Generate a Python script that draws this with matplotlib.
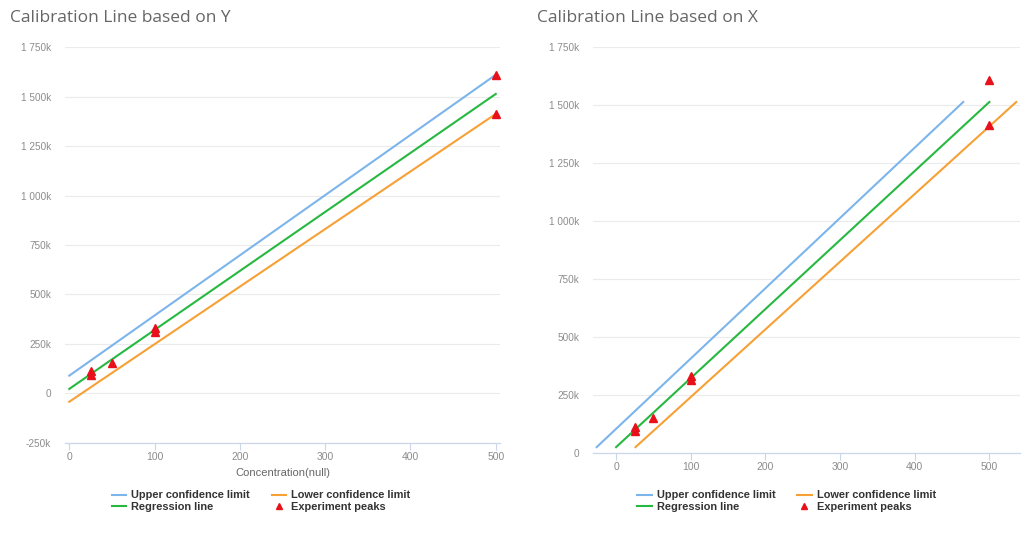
import numpy as np
import matplotlib
matplotlib.use("Agg")
import matplotlib.pyplot as plt
from matplotlib.ticker import FuncFormatter, MultipleLocator
from matplotlib.lines import Line2D

# measured peaks (concentration, signal)
peak_conc = [25, 25, 50, 100, 100, 500, 500]
peak_signal = [113000, 93000, 151000, 332000, 312000, 1611000, 1414000]

# calibration based on Y: lines evaluated at the concentration ends
y_line_conc = [0, 500]
y_upper = [89000, 1611000]
y_regression = [22000, 1514000]
y_lower = [-43000, 1413000]

# calibration based on X: lines evaluated at the signal ends
x_line_signal = [24000, 1514000]
x_upper_conc = [-26, 465]
x_regression_conc = [0, 500]
x_lower_conc = [26, 536]

BLUE = "#7cb5ec"
GREEN = "#27b840"
ORANGE = "#f7a035"
RED = "#e8101a"
GRID = "#ebebeb"
AXIS = "#ccd6eb"
LABEL = "#666666"
TICK = "#8c8c8c"


def k_format(v, pos=None):
    if v == 0:
        return "0"
    s = f"{abs(v) / 1000:,.0f}".replace(",", " ")
    return ("-" if v < 0 else "") + s + "k"


def style_axis(ax, ylim, xlim):
    ax.set_xlim(*xlim)
    ax.set_ylim(*ylim)
    ax.yaxis.set_major_locator(MultipleLocator(250000))
    ax.xaxis.set_major_locator(MultipleLocator(100))
    ax.yaxis.set_major_formatter(FuncFormatter(k_format))
    ax.grid(axis="y", color=GRID, linewidth=0.8)
    ax.set_axisbelow(True)
    for side in ["top", "right", "left"]:
        ax.spines[side].set_visible(False)
    ax.spines["bottom"].set_color(AXIS)
    ax.spines["bottom"].set_linewidth(0.9)
    ax.tick_params(axis="y", length=0, pad=10, labelsize=7.2, labelcolor=TICK)
    ax.tick_params(axis="x", length=5, width=0.8, color=AXIS, pad=1.5,
                   labelsize=7.5, labelcolor=TICK)
    for lab in ax.get_xticklabels() + ax.get_yticklabels():
        lab.set_fontfamily("Liberation Sans")


def add_legend(fig, x):
    handles = [
        Line2D([], [], color=BLUE, lw=1.5),
        Line2D([], [], color=GREEN, lw=1.5),
        Line2D([], [], color=ORANGE, lw=1.5),
        Line2D([], [], color=RED, marker="^", ls="none", ms=5),
    ]
    labels = ["Upper confidence limit", "Regression line",
              "Lower confidence limit", "Experiment peaks"]
    fig.legend(handles, labels, ncol=2, loc="upper center",
               bbox_to_anchor=(x, 0.11), frameon=False, handlelength=1.3,
               handletextpad=0.45, columnspacing=2.0, labelspacing=0.1,
               prop={"family": "Liberation Sans", "weight": "bold", "size": 7.9},
               labelcolor="#333333")


fig = plt.figure(figsize=(10.35, 5.4), dpi=100)

# left: regression of signal on concentration
ax1 = fig.add_axes([0.0628, 0.1802, 0.4203, 0.7322])
ax1.plot(y_line_conc, y_upper, color=BLUE, lw=1.5)
ax1.plot(y_line_conc, y_regression, color=GREEN, lw=1.5)
ax1.plot(y_line_conc, y_lower, color=ORANGE, lw=1.5)
ax1.plot(peak_conc, peak_signal, "^", color=RED, ms=5.5, zorder=5)
style_axis(ax1, (-250000, 1750000), (-5, 505))
ax1.set_xlabel("Concentration(null)", color=LABEL, fontsize=8,
               family="Liberation Sans", labelpad=4.5)
fig.text(0.0097, 0.967, "Calibration Line based on Y", fontsize=12.5,
         color=LABEL, family="Open Sans", va="center")
add_legend(fig, 0.252)

# right: concentration estimated from signal
ax2 = fig.add_axes([0.5729, 0.1617, 0.4126, 0.7507])
ax2.plot(x_upper_conc, x_line_signal, color=BLUE, lw=1.5)
ax2.plot(x_regression_conc, x_line_signal, color=GREEN, lw=1.5)
ax2.plot(x_lower_conc, x_line_signal, color=ORANGE, lw=1.5)
ax2.plot(peak_conc, peak_signal, "^", color=RED, ms=5.5, zorder=5)
style_axis(ax2, (0, 1750000), (-31, 541))
fig.text(0.519, 0.967, "Calibration Line based on X", fontsize=12.5,
         color=LABEL, family="Open Sans", va="center")
add_legend(fig, 0.760)

fig.savefig("out.png", dpi=100, facecolor="white")
